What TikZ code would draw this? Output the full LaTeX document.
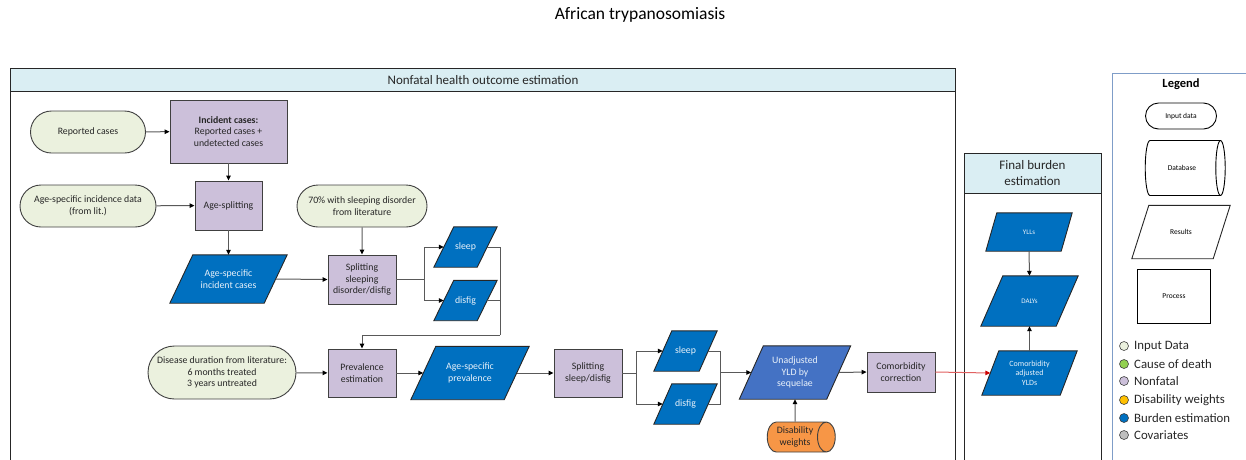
\documentclass[tikz,border=0pt]{standalone}
\usepackage{fontspec}
\setmainfont{Carlito}
\usetikzlibrary{shapes.geometric,shapes.misc,arrows.meta,calc}
\pgfdeclarelayer{background}
\pgfsetlayers{background,main}
\definecolor{inputc}{HTML}{EBF1DE}
\definecolor{procc}{HTML}{CCC0DA}
\definecolor{bluec}{HTML}{0070C0}
\definecolor{unadjc}{HTML}{4472C4}
\definecolor{orangec}{HTML}{F79646}
\definecolor{headc}{HTML}{DAEEF3}
\definecolor{legc}{HTML}{7F9DC8}
\definecolor{edgec}{HTML}{404040}
\definecolor{txtc}{HTML}{262626}
\definecolor{greenc}{HTML}{92D050}
\definecolor{yellowc}{HTML}{FFC000}
\definecolor{greyc}{HTML}{BFBFBF}
\definecolor{linec}{HTML}{595959}
\definecolor{redline}{HTML}{E06060}
\definecolor{paratxt}{HTML}{EAF2FA}
\newcommand{\pnode}[8]{%
  \node[base,#7,minimum width=#3-#5,minimum height=#4,inner sep=0pt] (#1) at #2 {#8};
  \begin{pgfonlayer}{background}
  \draw[draw=black!85,line width=0.9pt,fill=#6] ([xshift=#5/2]#1.north west) -- ([xshift=#5/2]#1.north east) -- ([xshift=-#5/2]#1.south east) -- ([xshift=-#5/2]#1.south west) -- cycle;
  \end{pgfonlayer}}
\begin{document}
\begin{tikzpicture}[x=1pt,y=-1pt,
  base/.style={font=\fontsize{9.8}{11.7}\selectfont, text=txtc, align=center, inner sep=1pt},
  inputnode/.style={base, rounded rectangle, draw=edgec, line width=0.9pt, fill=inputc},
  procnode/.style={base, rectangle, draw=edgec, line width=0.9pt, fill=procc},
  white text/.style={text=paratxt},
  arr/.style={draw=linec, line width=1pt, -{Triangle[length=5pt,width=4.5pt,color=black]}},
  ln/.style={draw=linec, line width=1pt},
  panel/.style={draw=black!85, line width=0.8pt},
  legdot/.style={circle, draw=edgec, line width=0.6pt, minimum size=9pt, inner sep=0pt},
  legtxt/.style={anchor=west, font=\fontsize{12.8}{14}\selectfont, text=txtc, inner sep=0pt},
  legshape/.style={base, draw=black, line width=0.9pt, fill=white, font=\fontsize{7.5}{9}\selectfont, text=black}
]
\useasboundingbox (0,0) rectangle (1246,459);
\clip (0,0) rectangle (1246,459);

% title
\node[font=\fontsize{17.5}{20}\selectfont, text=black] (title) at (640,15) {African trypanosomiasis};

% panels
\filldraw[panel, fill=headc] (10,68) rectangle (955,91);
\draw[panel] (10,91) -- (10,470);
\draw[panel] (955,91) -- (955,470);
\node[font=\fontsize{13}{15}\selectfont, text=txtc] (nfhead) at (483,80) {Nonfatal health outcome estimation};

\filldraw[panel, fill=headc] (964,153) rectangle (1101,193);
\draw[panel] (964,193) -- (964,470);
\draw[panel] (1101,193) -- (1101,470);
\node[font=\fontsize{13}{16}\selectfont, text=txtc, align=center] (fbhead) at (1032.5,173) {Final burden\\estimation};

\draw[draw=legc, line width=0.9pt] (1112,470) -- (1112,73) -- (1250,73);

% nonfatal nodes
\node[inputnode, minimum width=117, minimum height=42] (rep) at (88,132) {Reported cases};
\node[procnode, minimum width=117, minimum height=63] (inc) at (228.5,131.5) {\textbf{Incident cases:}\\Reported cases +\\undetected cases};
\node[inputnode, minimum width=138, minimum height=42] (agei) at (88,206) {Age-specific incidence data\\(from lit.)};
\node[procnode, minimum width=67, minimum height=49] (ages) at (228.5,205.5) {Age-splitting};
\node[inputnode, minimum width=132, minimum height=42] (p70) at (362,206) {70\% with sleeping disorder\\from literature};
\pnode{aic}{(228.5,279)}{117}{48}{23}{bluec}{white text}{Age-specific\\incident cases}
\node[procnode, minimum width=68, minimum height=49] (ss1) at (362,279.5) {Splitting\\sleeping\\disorder/disfig};
\pnode{sl1}{(465.5,247)}{63}{40}{20}{bluec}{white text}{sleep}
\pnode{df1}{(465.5,300.5)}{63}{40}{20}{bluec}{white text}{disfig}

\node[inputnode, minimum width=150, minimum height=53] (dd) at (222,372.5) {Disease duration from literature:\\6 months treated\\3 years untreated};
\node[procnode, minimum width=68, minimum height=48] (prev) at (362,373) {Prevalence\\estimation};
\pnode{agp}{(470,373)}{118}{53}{25}{bluec}{white text}{Age-specific\\prevalence}
\node[procnode, minimum width=68, minimum height=48] (ss2) at (588,373) {Splitting\\sleep/disfig};
\pnode{sl2}{(685.5,351)}{63}{40}{18}{bluec}{white text}{sleep}
\pnode{df2}{(685.5,404)}{63}{40}{18}{bluec}{white text}{disfig}
\pnode{unadj}{(795,372.5)}{111}{53}{24}{unadjc}{white text}{Unadjusted\\YLD by\\sequelae}
\node[base, cylinder, shape border rotate=0, aspect=0.8, draw=edgec, line width=0.9pt, fill=orangec, minimum width=30, minimum height=68] (dw) at (795,437) {Disability\\weights};
\node[procnode, minimum width=68, minimum height=40] (comorb) at (901,372) {Comorbidity\\correction};

% final burden nodes
\pnode{ylls}{(1029,232)}{86}{38}{11}{bluec}{white text, font=\fontsize{7}{8}\selectfont}{YLLs}
\pnode{dalys}{(1029.5,301)}{97}{50}{22}{bluec}{white text, font=\fontsize{7}{8}\selectfont}{DALYs}
\pnode{cayld}{(1029.5,373)}{95}{44}{17}{bluec}{white text, font=\fontsize{8}{9.5}\selectfont}{Comorbidity\\adjusted\\YLDs}

% legend
\node[font=\bfseries\fontsize{12.5}{14}\selectfont, text=black] (legt) at (1181,84) {Legend};
\node[legshape, rounded rectangle, minimum width=73, minimum height=26] (lin) at (1181,116) {Input data};
\node[legshape, cylinder, shape border rotate=0, aspect=1.3, minimum width=55, minimum height=80] (ldb) at (1182,168) {Database};
\pnode{lres}{(1181,232)}{98}{53}{17}{white}{text=black, font=\fontsize{7.5}{9}\selectfont}{Results}
\node[legshape, rectangle, minimum width=73, minimum height=54] (lproc) at (1174,296) {Process};

\node[legdot, fill=inputc] (d1) at (1124,346) {};
\node[legtxt] (t1) at (1134,346) {Input Data};
\node[legdot, fill=greenc] (d2) at (1124,364) {};
\node[legtxt] (t2) at (1134,364) {Cause of death};
\node[legdot, fill=procc] (d3) at (1124,381) {};
\node[legtxt] (t3) at (1134,381) {Nonfatal};
\node[legdot, fill=yellowc] (d4) at (1124,400) {};
\node[legtxt] (t4) at (1134,400) {Disability weights};
\node[legdot, fill=bluec] (d5) at (1124,418) {};
\node[legtxt] (t5) at (1134,418) {Burden estimation};
\node[legdot, fill=greyc] (d6) at (1124,435) {};
\node[legtxt] (t6) at (1134,435) {Covariates};

% connectors
\coordinate (j1) at (424,279.5);
\coordinate (j2) at (500,335);
\coordinate (j3) at (636,373);
\coordinate (j4) at (720,372.5);

\draw[arr] (rep) -- (inc);
\draw[arr] (inc) -- (ages);
\draw[arr] (agei) -- (ages);
\draw[arr] (ages) -- (aic);
\draw[arr] (p70) -- (ss1);
\draw[arr] (aic.east) -- (ss1.west);
\draw[ln] (ss1.east) -- (j1);
\draw[arr] (j1) |- (sl1.west);
\draw[arr] (j1) |- (df1.west);
\draw[ln] (sl1.east) -| (j2);
\draw[ln] (df1.east) -| (j2);
\draw[arr] (j2) -| (prev.north);
\draw[arr] (dd) -- (prev);
\draw[arr] (prev.east) -- (agp.west);
\draw[arr] (agp.east) -- (ss2.west);
\draw[ln] (ss2.east) -- (j3);
\draw[arr] (j3) |- (sl2.west);
\draw[arr] (j3) |- (df2.west);
\draw[ln] (sl2.east) -| (j4);
\draw[ln] (df2.east) -| (j4);
\draw[arr] (j4) -- (unadj.west);
\draw[arr] (dw.north) -- (unadj.south);
\draw[arr] (unadj.east) -- (comorb.west);
\draw[draw=redline, line width=1pt, -{Triangle[length=5pt,width=4.5pt,color=red!80!black]}] (comorb.east) -- (cayld.west);
\draw[arr] (ylls.south) -- (dalys.north);
\draw[arr] (cayld.north) -- (dalys.south);
\end{tikzpicture}
\end{document}
